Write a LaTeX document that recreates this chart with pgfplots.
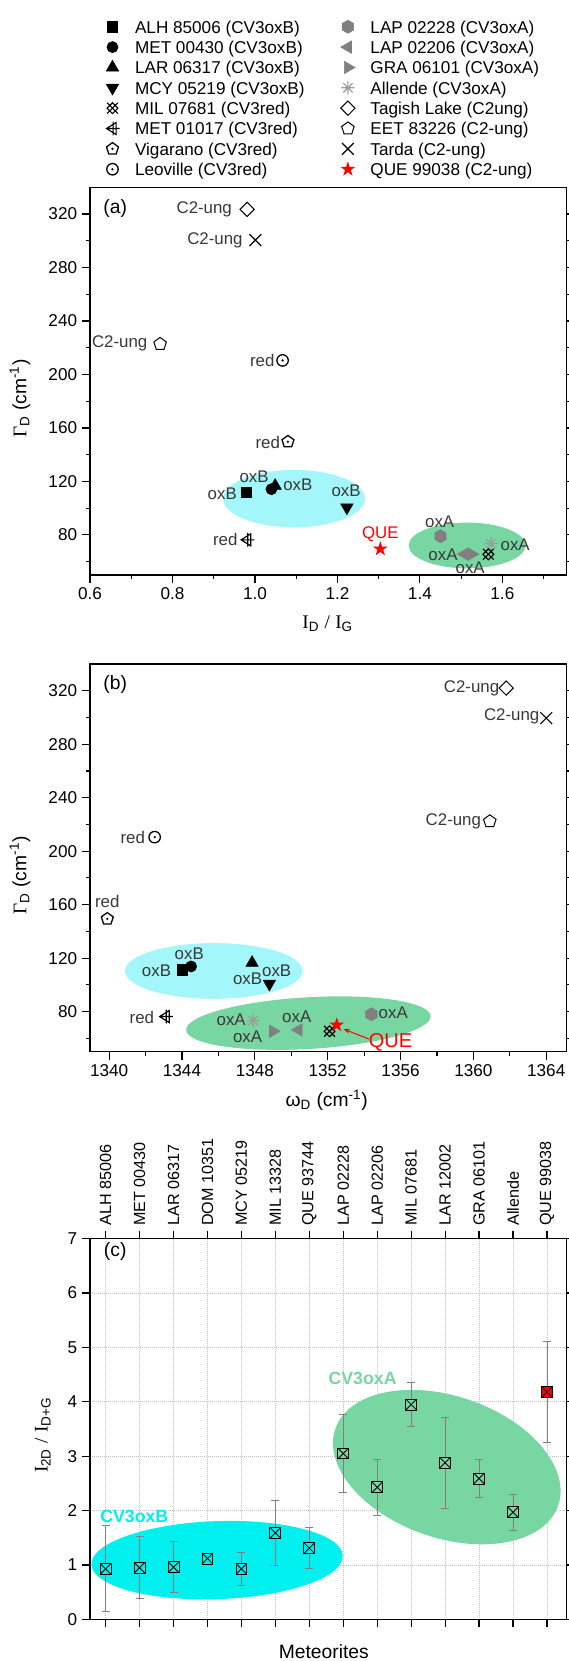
\documentclass[border=0pt]{standalone}
\usepackage{fontspec}
\setmainfont{Liberation Sans}
\newfontfamily\serif{Liberation Serif}
\usepackage{pgfplots}
\pgfplotsset{compat=1.18}
\usetikzlibrary{arrows.meta}

\definecolor{cyA}{HTML}{A3F6F9}
\definecolor{grA}{HTML}{78D6A2}
\definecolor{cyC}{HTML}{00F0F0}
\definecolor{mgray}{HTML}{808080}
\definecolor{lgray}{HTML}{9A9A9A}
\definecolor{lblc}{HTML}{383838}

\newcommand\lab{\fontsize{11.8}{14}\selectfont}
\newcommand\lgd[1]{\makebox[141pt][l]{\rule[-4pt]{0pt}{14.5pt}#1}}

\pgfdeclareplotmark{milx}{%
  \pgfpathmoveto{\pgfqpoint{-\pgfplotmarksize}{-\pgfplotmarksize}}%
  \pgfpathlineto{\pgfqpoint{\pgfplotmarksize}{\pgfplotmarksize}}%
  \pgfpathmoveto{\pgfqpoint{-\pgfplotmarksize}{\pgfplotmarksize}}%
  \pgfpathlineto{\pgfqpoint{\pgfplotmarksize}{-\pgfplotmarksize}}%
  \pgfpathmoveto{\pgfqpoint{0pt}{\pgfplotmarksize}}%
  \pgfpathlineto{\pgfqpoint{\pgfplotmarksize}{0pt}}%
  \pgfpathlineto{\pgfqpoint{0pt}{-\pgfplotmarksize}}%
  \pgfpathlineto{\pgfqpoint{-\pgfplotmarksize}{0pt}}%
  \pgfpathclose
  \pgfusepathqstroke}
\pgfdeclareplotmark{metr}{%
  \pgfpathmoveto{\pgfqpoint{-\pgfplotmarksize}{0pt}}%
  \pgfpathlineto{\pgfqpoint{0.6\pgfplotmarksize}{\pgfplotmarksize}}%
  \pgfpathlineto{\pgfqpoint{0.6\pgfplotmarksize}{-\pgfplotmarksize}}%
  \pgfpathclose
  \pgfpathmoveto{\pgfqpoint{0.1\pgfplotmarksize}{-1.15\pgfplotmarksize}}%
  \pgfpathlineto{\pgfqpoint{0.1\pgfplotmarksize}{1.15\pgfplotmarksize}}%
  \pgfpathmoveto{\pgfqpoint{-\pgfplotmarksize}{0pt}}%
  \pgfpathlineto{\pgfqpoint{1.2\pgfplotmarksize}{0pt}}%
  \pgfusepathqstroke}
\pgfdeclareplotmark{pent}{%
  \pgfpathmoveto{\pgfqpoint{0pt}{\pgfplotmarksize}}%
  \pgfpathlineto{\pgfqpoint{-0.951\pgfplotmarksize}{0.309\pgfplotmarksize}}%
  \pgfpathlineto{\pgfqpoint{-0.588\pgfplotmarksize}{-0.809\pgfplotmarksize}}%
  \pgfpathlineto{\pgfqpoint{0.588\pgfplotmarksize}{-0.809\pgfplotmarksize}}%
  \pgfpathlineto{\pgfqpoint{0.951\pgfplotmarksize}{0.309\pgfplotmarksize}}%
  \pgfpathclose
  \pgfusepathqstroke}
\pgfdeclareplotmark{pentdot}{%
  \pgfpathmoveto{\pgfqpoint{0pt}{\pgfplotmarksize}}%
  \pgfpathlineto{\pgfqpoint{-0.951\pgfplotmarksize}{0.309\pgfplotmarksize}}%
  \pgfpathlineto{\pgfqpoint{-0.588\pgfplotmarksize}{-0.809\pgfplotmarksize}}%
  \pgfpathlineto{\pgfqpoint{0.588\pgfplotmarksize}{-0.809\pgfplotmarksize}}%
  \pgfpathlineto{\pgfqpoint{0.951\pgfplotmarksize}{0.309\pgfplotmarksize}}%
  \pgfpathclose
  \pgfusepathqstroke
  \pgfpathcircle{\pgfpointorigin}{0.2\pgfplotmarksize}%
  \pgfusepathqfill}
\pgfdeclareplotmark{odot}{%
  \pgfpathcircle{\pgfpointorigin}{\pgfplotmarksize}%
  \pgfusepathqstroke
  \pgfpathcircle{\pgfpointorigin}{0.22\pgfplotmarksize}%
  \pgfusepathqfill}
\pgfdeclareplotmark{hexa*}{%
  \pgfpathmoveto{\pgfqpoint{0pt}{\pgfplotmarksize}}%
  \pgfpathlineto{\pgfqpoint{-0.866\pgfplotmarksize}{0.5\pgfplotmarksize}}%
  \pgfpathlineto{\pgfqpoint{-0.866\pgfplotmarksize}{-0.5\pgfplotmarksize}}%
  \pgfpathlineto{\pgfqpoint{0pt}{-\pgfplotmarksize}}%
  \pgfpathlineto{\pgfqpoint{0.866\pgfplotmarksize}{-0.5\pgfplotmarksize}}%
  \pgfpathlineto{\pgfqpoint{0.866\pgfplotmarksize}{0.5\pgfplotmarksize}}%
  \pgfpathclose
  \pgfusepathqfillstroke}
\pgfdeclareplotmark{ast8}{%
  \pgfpathmoveto{\pgfqpoint{-\pgfplotmarksize}{0pt}}%
  \pgfpathlineto{\pgfqpoint{\pgfplotmarksize}{0pt}}%
  \pgfpathmoveto{\pgfqpoint{0pt}{-\pgfplotmarksize}}%
  \pgfpathlineto{\pgfqpoint{0pt}{\pgfplotmarksize}}%
  \pgfpathmoveto{\pgfqpoint{-0.707\pgfplotmarksize}{-0.707\pgfplotmarksize}}%
  \pgfpathlineto{\pgfqpoint{0.707\pgfplotmarksize}{0.707\pgfplotmarksize}}%
  \pgfpathmoveto{\pgfqpoint{-0.707\pgfplotmarksize}{0.707\pgfplotmarksize}}%
  \pgfpathlineto{\pgfqpoint{0.707\pgfplotmarksize}{-0.707\pgfplotmarksize}}%
  \pgfusepathqstroke}
\pgfdeclareplotmark{dia}{%
  \pgfpathmoveto{\pgfqpoint{0pt}{\pgfplotmarksize}}%
  \pgfpathlineto{\pgfqpoint{\pgfplotmarksize}{0pt}}%
  \pgfpathlineto{\pgfqpoint{0pt}{-\pgfplotmarksize}}%
  \pgfpathlineto{\pgfqpoint{-\pgfplotmarksize}{0pt}}%
  \pgfpathclose
  \pgfusepathqstroke}
\pgfdeclareplotmark{xx}{%
  \pgfpathmoveto{\pgfqpoint{-0.75\pgfplotmarksize}{-0.75\pgfplotmarksize}}%
  \pgfpathlineto{\pgfqpoint{0.75\pgfplotmarksize}{0.75\pgfplotmarksize}}%
  \pgfpathmoveto{\pgfqpoint{-0.75\pgfplotmarksize}{0.75\pgfplotmarksize}}%
  \pgfpathlineto{\pgfqpoint{0.75\pgfplotmarksize}{-0.75\pgfplotmarksize}}%
  \pgfusepathqstroke}
\pgfdeclareplotmark{star5*}{%
  \pgfpathmoveto{\pgfqpoint{0pt}{\pgfplotmarksize}}%
  \pgfpathlineto{\pgfqpoint{-0.2245\pgfplotmarksize}{0.309\pgfplotmarksize}}%
  \pgfpathlineto{\pgfqpoint{-0.951\pgfplotmarksize}{0.309\pgfplotmarksize}}%
  \pgfpathlineto{\pgfqpoint{-0.363\pgfplotmarksize}{-0.118\pgfplotmarksize}}%
  \pgfpathlineto{\pgfqpoint{-0.588\pgfplotmarksize}{-0.809\pgfplotmarksize}}%
  \pgfpathlineto{\pgfqpoint{0pt}{-0.382\pgfplotmarksize}}%
  \pgfpathlineto{\pgfqpoint{0.588\pgfplotmarksize}{-0.809\pgfplotmarksize}}%
  \pgfpathlineto{\pgfqpoint{0.363\pgfplotmarksize}{-0.118\pgfplotmarksize}}%
  \pgfpathlineto{\pgfqpoint{0.951\pgfplotmarksize}{0.309\pgfplotmarksize}}%
  \pgfpathlineto{\pgfqpoint{0.2245\pgfplotmarksize}{0.309\pgfplotmarksize}}%
  \pgfpathclose
  \pgfusepathqfill}
\pgfdeclareplotmark{boxx*}{%
  \pgfpathrectangle{\pgfqpoint{-\pgfplotmarksize}{-\pgfplotmarksize}}{\pgfqpoint{2\pgfplotmarksize}{2\pgfplotmarksize}}%
  \pgfusepathqfillstroke
  \pgfpathmoveto{\pgfqpoint{-\pgfplotmarksize}{-\pgfplotmarksize}}%
  \pgfpathlineto{\pgfqpoint{\pgfplotmarksize}{\pgfplotmarksize}}%
  \pgfpathmoveto{\pgfqpoint{-\pgfplotmarksize}{\pgfplotmarksize}}%
  \pgfpathlineto{\pgfqpoint{\pgfplotmarksize}{-\pgfplotmarksize}}%
  \pgfusepathqstroke}

\pgfplotsset{
  myaxis/.style={
    scale only axis,
    axis line style={line width=0.9pt},
    tick align=outside,
    major tick length=5.5pt,
    minor tick length=3pt,
    every tick/.append style={black, line width=0.8pt},
    /pgf/number format/assume math mode=true,
    tick label style={font=\fontsize{12}{14}\selectfont},
    label style={font=\fontsize{13.5}{16}\selectfont},
    clip=false,
  },
  pt/.style={only marks, legend image code/.code={\path[draw=none, fill=none] (0pt,-4pt) rectangle (12pt,4pt); \draw[mark repeat=2,mark phase=2] plot coordinates {(0pt,0pt)(6pt,0pt)(12pt,0pt)};}},
  sALH/.style={pt, black, mark=square*, mark size=3.6pt},
  sMET/.style={pt, black, mark=*, mark size=3.9pt},
  sLAR/.style={pt, black, mark=triangle*, mark size=5pt},
  sMCY/.style={pt, black, mark=triangle*, mark size=5pt, mark options={rotate=180}},
  sMIL/.style={pt, black, mark=milx, mark size=3.8pt, mark options={line width=0.8pt}},
  sM01/.style={pt, black, mark=metr, mark size=4.2pt, mark options={line width=0.8pt}},
  sVIG/.style={pt, black, mark=pentdot, mark size=4.4pt, mark options={line width=0.9pt}},
  sLEO/.style={pt, black, mark=odot, mark size=4pt, mark options={line width=0.9pt}},
  sL28/.style={pt, mgray, mark=hexa*, mark size=4.6pt},
  sL06/.style={pt, mgray, mark=triangle*, mark size=5pt, mark options={rotate=90}},
  sGRA/.style={pt, mgray, mark=triangle*, mark size=5pt, mark options={rotate=-90}},
  sALL/.style={pt, lgray, mark=ast8, mark size=4.6pt, mark options={line width=0.8pt}},
  sTAG/.style={pt, black, mark=dia, mark size=5pt, mark options={line width=0.7pt}},
  sEET/.style={pt, black, mark=pent, mark size=4.6pt, mark options={line width=0.7pt}},
  sTAR/.style={pt, black, mark=xx, mark size=5.5pt, mark options={line width=0.8pt}},
  sQUE/.style={pt, red, mark=star5*, mark size=5.5pt},
}

\begin{document}
\begin{tikzpicture}
\useasboundingbox (0,0) rectangle (398.3pt,-1162.7pt);

% ---------------- (a) ----------------
\begin{axis}[myaxis,
  at={(63pt,-131.1pt)}, anchor=north west, width=333.4pt, height=271.4pt,
  xmin=0.6, xmax=1.755, ymin=50, ymax=340,
  xtick={0.6,0.8,1.0,1.2,1.4,1.6}, minor xtick={0.7,0.9,1.1,1.3,1.5,1.7},
  ytick={80,120,160,200,240,280,320}, minor ytick={60,100,140,180,220,260,300},
  xtick pos=left, ytick pos=both, yticklabel pos=left,
  x tick label style={/pgf/number format/fixed, /pgf/number format/fixed zerofill, /pgf/number format/precision=1},
  xlabel={{\serif I}\textsubscript{D} {\serif /} {\serif I}\textsubscript{G}},
  ylabel={{\serif Γ}\textsubscript{D} (cm\textsuperscript{-1})},
  xlabel style={at={(axis description cs:0.499,-0.125)}, anchor=center},
  ylabel style={at={(axis description cs:-0.147,0.455)}, anchor=center},
  legend columns=2, legend cell align=left,
  legend style={at={(0.0292,1.4362)}, anchor=north west, draw=none, fill=none,
    inner sep=0pt, outer sep=0pt, row sep=2.25pt, font=\fontsize{12}{14}\selectfont,
    nodes={inner ysep=0pt},
    /tikz/every odd column/.append style={column sep=7.8pt},
    /tikz/every even column/.append style={column sep=0pt}},
]
\fill[cyA] (axis cs:1.095,107.1) ellipse [x radius=49.6pt, y radius=20.1pt];
\fill[grA] (axis cs:1.5145,72.1) ellipse [x radius=40.9pt, y radius=16pt];

\addplot[sALH] coordinates {(0.979,111.7)}; \addlegendentry{\lgd{ALH 85006 (CV3oxB)}}
\addplot[sL28] coordinates {(1.450,79)}; \addlegendentry{\lgd{LAP 02228 (CV3oxA)}}
\addplot[sMET] coordinates {(1.040,114.2)}; \addlegendentry{\lgd{MET 00430 (CV3oxB)}}
\addplot[sL06] coordinates {(1.508,65.6)}; \addlegendentry{\lgd{LAP 02206 (CV3oxA)}}
\addplot[sLAR] coordinates {(1.049,116.7)}; \addlegendentry{\lgd{LAR 06317 (CV3oxB)}}
\addplot[sGRA] coordinates {(1.526,65.6)}; \addlegendentry{\lgd{GRA 06101 (CV3oxA)}}
\addplot[sMCY] coordinates {(1.223,100.5)}; \addlegendentry{\lgd{MCY 05219 (CV3oxB)}}
\addplot[sALL] coordinates {(1.573,73.5)}; \addlegendentry{\lgd{Allende (CV3oxA)}}
\addplot[sMIL] coordinates {(1.566,65.5)}; \addlegendentry{\lgd{MIL 07681 (CV3red)}}
\addplot[sTAG] coordinates {(0.981,323.5)}; \addlegendentry{\lgd{Tagish Lake (C2ung)}}
\addplot[sM01] coordinates {(0.981,76.3)}; \addlegendentry{\lgd{MET 01017 (CV3red)}}
\addplot[sEET] coordinates {(0.770,222.8)}; \addlegendentry{\lgd{EET 83226 (C2-ung)}}
\addplot[sVIG] coordinates {(1.080,149.7)}; \addlegendentry{\lgd{Vigarano (CV3red)}}
\addplot[sTAR] coordinates {(1.001,300.5)}; \addlegendentry{\lgd{Tarda (C2-ung)}}
\addplot[sLEO] coordinates {(1.067,210.5)}; \addlegendentry{\lgd{Leoville (CV3red)}}
\addplot[sQUE] coordinates {(1.304,69.5)}; \addlegendentry{\lgd{QUE 99038 (C2-ung)}}

\begin{scope}[every node/.style={font=\lab, text=lblc, inner sep=0pt}]
\node at (axis cs:0.877,323.5) {C2-ung};
\node at (axis cs:0.903,300.5) {C2-ung};
\node at (axis cs:0.672,222.9) {C2-ung};
\node at (axis cs:1.0176,210.7) {red};
\node at (axis cs:1.031,149.5) {red};
\node at (axis cs:0.928,76.7) {red};
\node at (axis cs:0.9207,110.4) {oxB};
\node at (axis cs:0.998,123.8) {oxB};
\node at (axis cs:1.104,117.5) {oxB};
\node at (axis cs:1.221,112.9) {oxB};
\node at (axis cs:1.448,90.1) {oxA};
\node at (axis cs:1.456,64.8) {oxA};
\node at (axis cs:1.522,55.2) {oxA};
\node at (axis cs:1.631,72.9) {oxA};
\node[text=red] at (axis cs:1.304,80.5) {QUE};
\end{scope}
\node[font=\fontsize{13.5}{16}\selectfont, inner sep=0pt] at (rel axis cs:0.053,0.946) {(a)};
\end{axis}

% ---------------- (b) ----------------
\begin{axis}[myaxis,
  at={(63pt,-464.8pt)}, anchor=north west, width=333.4pt, height=271.4pt,
  xmin=1338.95, xmax=1365.1, ymin=50, ymax=340,
  xtick={1340,1344,1348,1352,1356,1360,1364}, minor xtick={1342,1346,1350,1354,1358,1362},
  ytick={80,120,160,200,240,280,320}, minor ytick={60,100,140,180,220,260,300},
  xtick pos=left, ytick pos=both, yticklabel pos=left,
  x tick label style={/pgf/number format/1000 sep={}},
  xlabel={ω\textsubscript{D} (cm\textsuperscript{-1})},
  ylabel={{\serif Γ}\textsubscript{D} (cm\textsuperscript{-1})},
  xlabel style={at={(axis description cs:0.497,-0.125)}, anchor=center},
  ylabel style={at={(axis description cs:-0.147,0.455)}, anchor=center},
]
\fill[cyA] (axis cs:1345.75,110.4) ellipse [x radius=62.2pt, y radius=19.5pt];
\fill[grA, rotate around={3.3:(axis cs:1350.94,71.4)}] (axis cs:1350.94,71.4) ellipse [x radius=85.7pt, y radius=18.1pt];

\addplot[sALH] coordinates {(1344.0,111.3)};
\addplot[sMET] coordinates {(1344.5,113.8)};
\addplot[sLAR] coordinates {(1347.85,116.5)};
\addplot[sMCY] coordinates {(1348.8,100.8)};
\addplot[sMIL] coordinates {(1352.1,65.3)};
\addplot[sM01] coordinates {(1343.1,76.3)};
\addplot[sVIG] coordinates {(1339.9,149.4)};
\addplot[sLEO] coordinates {(1342.5,210.5)};
\addplot[sL28] coordinates {(1354.4,78)};
\addplot[sL06] coordinates {(1350.4,66.3)};
\addplot[sGRA] coordinates {(1349.0,65.3)};
\addplot[sALL] coordinates {(1347.9,73.3)};
\addplot[sTAG] coordinates {(1361.8,322)};
\addplot[sEET] coordinates {(1360.9,222.3)};
\addplot[sTAR] coordinates {(1364.0,299.5)};
\addplot[sQUE] coordinates {(1352.5,70)};

\begin{scope}[every node/.style={font=\lab, text=lblc, inner sep=0pt}]
\node at (axis cs:1359.9,322) {C2-ung};
\node at (axis cs:1362.1,300.5) {C2-ung};
\node at (axis cs:1358.9,222.6) {C2-ung};
\node at (axis cs:1341.3,210) {red};
\node at (axis cs:1339.9,162.2) {red};
\node at (axis cs:1341.8,75.8) {red};
\node at (axis cs:1342.6,110.3) {oxB};
\node at (axis cs:1344.4,123.3) {oxB};
\node at (axis cs:1347.6,104.5) {oxB};
\node at (axis cs:1349.2,110.8) {oxB};
\node at (axis cs:1346.7,73.8) {oxA};
\node at (axis cs:1347.6,61.3) {oxA};
\node at (axis cs:1350.3,76.3) {oxA};
\node at (axis cs:1355.6,79.5) {oxA};
\node[text=red, font=\fontsize{14}{16}\selectfont] at (axis cs:1355.45,57) {QUE};
\end{scope}
\draw[-{Stealth[length=4.5pt,width=3.5pt]}, red, line width=0.7pt] (axis cs:1354.26,59.5) -- (axis cs:1352.87,67);
\node[font=\fontsize{13.5}{16}\selectfont, inner sep=0pt] at (rel axis cs:0.053,0.946) {(b)};
\end{axis}

% ---------------- (c) ----------------
\begin{axis}[myaxis,
  at={(63pt,-867pt)}, anchor=north west, width=333.4pt, height=266.6pt,
  xmin=-0.46, xmax=13.57, ymin=0, ymax=7,
  xtick={0,1,2,3,4,5,6,7,8,9,10,11,12,13},
  xticklabels={ALH 85006, MET 00430, LAR 06317, DOM 10351, MCY 05219, MIL 13328, QUE 93744, LAP 02228, LAP 02206, MIL 07681, LAR 12002, GRA 06101, Allende, QUE 99038},
  xtick pos=both, xticklabel pos=right,
  x tick label style={rotate=90, anchor=west, font=\fontsize{11.3}{13}\selectfont},
  ytick={0,1,2,3,4,5,6,7}, ytick pos=both, yticklabel pos=left,
  grid=major, major grid style={densely dotted, black!25, line width=0.5pt},
  xlabel={Meteorites},
  ylabel={{\serif I}\textsubscript{2D} {\serif /} {\serif I}\textsubscript{D+G}},
  xlabel style={at={(axis description cs:0.491,-0.085)}, anchor=center},
  ylabel style={at={(axis description cs:-0.099,0.484)}, anchor=center},
]
\fill[cyC, rotate around={2:(axis cs:3.285,1.09)}] (axis cs:3.285,1.09) ellipse [x radius=88pt, y radius=27.3pt];
\fill[grA, rotate around={-19:(axis cs:10.05,2.80)}] (axis cs:10.05,2.80) ellipse [x radius=82.5pt, y radius=49.6pt];

\node[font=\bfseries\fontsize{12.4}{14}\selectfont, text=cyC, inner sep=0pt] at (axis cs:0.845,1.90) {CV3oxB};
\node[font=\bfseries\fontsize{12.4}{14}\selectfont, text=grA, inner sep=0pt] at (axis cs:7.57,4.43) {CV3oxA};

\addplot[only marks, mark=boxx*, mark size=3.8pt, draw=black, fill=cyC, line width=0.6pt,
  error bars/.cd, y dir=both, y explicit,
  error bar style={mgray, line width=0.5pt},
  error mark options={rotate=90, mgray, mark size=2.8pt, line width=0.5pt}]
  table[x=x, y=y, y error=e, row sep=\\] {
  x y e \\
  0 0.93 0.79 \\
  1 0.95 0.57 \\
  2 0.96 0.47 \\
  4 0.93 0.30 \\
  5 1.59 0.60 \\
  6 1.31 0.38 \\
  };
\addplot[only marks, mark=boxx*, mark size=3.8pt, draw=black, fill=cyC, line width=0.6pt]
  coordinates {(3,1.12)};
\addplot[only marks, mark=boxx*, mark size=3.8pt, draw=black, fill=grA, line width=0.6pt,
  error bars/.cd, y dir=both, y explicit,
  error bar style={mgray, line width=0.5pt},
  error mark options={rotate=90, mgray, mark size=2.8pt, line width=0.5pt}]
  table[x=x, y=y, y error=e, row sep=\\] {
  x y e \\
  7 3.05 0.72 \\
  8 2.43 0.51 \\
  9 3.95 0.40 \\
  10 2.88 0.84 \\
  11 2.59 0.35 \\
  12 1.97 0.33 \\
  };
\addplot[only marks, mark=boxx*, mark size=3.8pt, draw=black, fill=red, line width=0.6pt,
  error bars/.cd, y dir=both, y explicit,
  error bar style={mgray, line width=0.5pt},
  error mark options={rotate=90, mgray, mark size=2.8pt, line width=0.5pt}]
  table[x=x, y=y, y error=e, row sep=\\] {
  x y e \\
  13 4.18 0.93 \\
  };
\node[font=\fontsize{13.5}{16}\selectfont, inner sep=0pt] at (rel axis cs:0.053,0.965) {(c)};
\end{axis}
\end{tikzpicture}
\end{document}
